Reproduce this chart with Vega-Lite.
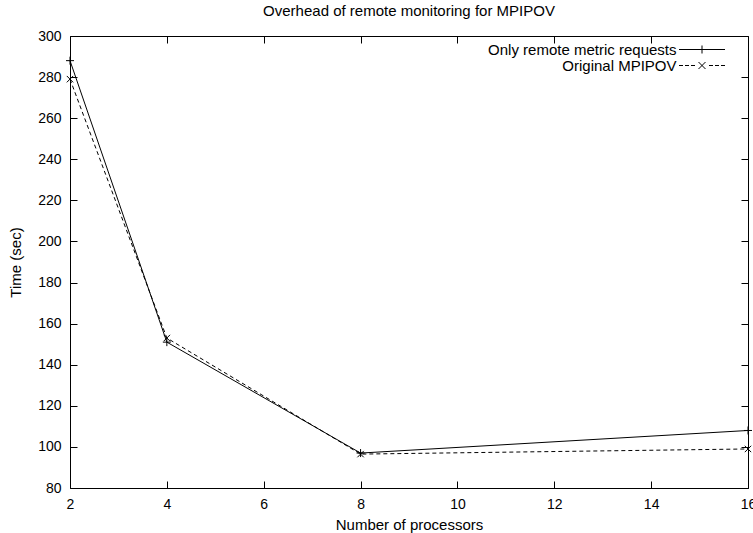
{
  "$schema": "https://vega.github.io/schema/vega-lite/v6.json",
  "width": 678,
  "height": 452,
  "autosize": "none",
  "padding": {"left": 70, "top": 36, "right": 5, "bottom": 45},
  "background": "white",
  "title": {"text": "Overhead of remote monitoring for MPIPOV", "fontSize": 15, "fontWeight": "normal", "font": "Liberation Sans", "color": "black", "offset": 10, "anchor": "middle"},
  "config": {
    "view": {"stroke": "black", "strokeWidth": 1},
    "font": "Liberation Sans",
    "axis": {"grid": false, "domain": false, "tickColor": "black", "tickSize": 7, "tickWidth": 1, "offset": -7, "labelColor": "black", "labelFontSize": 14, "labelFont": "Liberation Sans", "titleFont": "Liberation Sans", "titleFontSize": 15, "titleFontWeight": "normal", "titleColor": "black", "labelFlush": false, "labelOverlap": false}
  },
  "data": {"values": [
    {"procs": 2, "time": 288, "series": "Only remote metric requests"},
    {"procs": 4, "time": 151, "series": "Only remote metric requests"},
    {"procs": 8, "time": 97, "series": "Only remote metric requests"},
    {"procs": 16, "time": 108, "series": "Only remote metric requests"},
    {"procs": 2, "time": 279, "series": "Original MPIPOV"},
    {"procs": 4, "time": 153, "series": "Original MPIPOV"},
    {"procs": 8, "time": 96.5, "series": "Original MPIPOV"},
    {"procs": 16, "time": 99, "series": "Original MPIPOV"}
  ]},
  "layer": [
    {
      "transform": [{"filter": "datum.series === 'Only remote metric requests'"}],
      "mark": {"type": "line", "color": "black", "strokeWidth": 1},
      "encoding": {
        "x": {"field": "procs", "type": "quantitative", "scale": {"domain": [2, 16], "nice": false, "zero": false},
              "axis": {"orient": "bottom", "values": [2, 4, 6, 8, 10, 12, 14, 16], "labelPadding": 9, "title": "Number of processors", "titlePadding": 6}},
        "y": {"field": "time", "type": "quantitative", "scale": {"domain": [80, 300], "nice": false, "zero": false},
              "axis": {"orient": "left", "values": [80, 100, 120, 140, 160, 180, 200, 220, 240, 260, 280, 300], "labelPadding": 9, "title": "Time (sec)", "titlePadding": 14}}
      }
    },
    {
      "transform": [{"filter": "datum.series === 'Original MPIPOV'"}],
      "mark": {"type": "line", "color": "black", "strokeWidth": 1, "strokeDash": [4, 3]},
      "encoding": {
        "x": {"field": "procs", "type": "quantitative", "axis": null},
        "y": {"field": "time", "type": "quantitative", "axis": null}
      }
    },
    {
      "transform": [{"filter": "datum.series === 'Only remote metric requests'"}],
      "mark": {"type": "point", "filled": false, "color": "black", "strokeWidth": 1, "size": 64, "opacity": 1, "shape": "M-1,0H1M0,-1V1"},
      "encoding": {
        "x": {"field": "procs", "type": "quantitative",
              "axis": {"orient": "top", "values": [2, 4, 6, 8, 10, 12, 14, 16], "labels": false, "title": null}},
        "y": {"field": "time", "type": "quantitative",
              "axis": {"orient": "right", "values": [80, 100, 120, 140, 160, 180, 200, 220, 240, 260, 280, 300], "labels": false, "title": null}}
      }
    },
    {
      "transform": [{"filter": "datum.series === 'Original MPIPOV'"}],
      "mark": {"type": "point", "filled": false, "color": "black", "strokeWidth": 1, "size": 64, "opacity": 1, "shape": "M-0.8,-0.8L0.8,0.8M-0.8,0.8L0.8,-0.8"},
      "encoding": {
        "x": {"field": "procs", "type": "quantitative", "axis": null},
        "y": {"field": "time", "type": "quantitative", "axis": null}
      }
    },
    {
      "mark": {"type": "point", "filled": false, "color": "black", "strokeWidth": 1, "size": 100, "opacity": 0},
      "encoding": {
        "x": {"field": "procs", "type": "quantitative", "axis": null},
        "y": {"field": "time", "type": "quantitative", "axis": null},
        "shape": {"field": "series", "type": "nominal",
          "scale": {"domain": ["Only remote metric requests", "Original MPIPOV"],
                    "range": ["M-4.6,0H4.6M0,-0.8V0.8", "M-4.6,0H-3.8M-3.4,0H-2.6M-2.2,0H-1.4M-0.7,-0.7L0.7,0.7M-0.7,0.7L0.7,-0.7M1.4,0H2.2M2.6,0H3.4M3.8,0H4.6"]},
          "legend": {
            "title": null, "orient": "none", "legendX": 606, "legendY": 6,
            "labelAlign": "right", "labelOffset": -33, "symbolOffset": 18.5, "symbolSize": 100, "labelLimit": 400,
            "symbolOpacity": 1, "symbolStrokeColor": "black", "symbolFillColor": "transparent", "symbolStrokeWidth": 1,
            "labelFontSize": 15, "labelFont": "Liberation Sans", "labelColor": "black", "labelOpacity": 1, "rowPadding": 0
          }}
      }
    }
  ],
  "resolve": {"axis": {"x": "independent", "y": "independent"}}
}
